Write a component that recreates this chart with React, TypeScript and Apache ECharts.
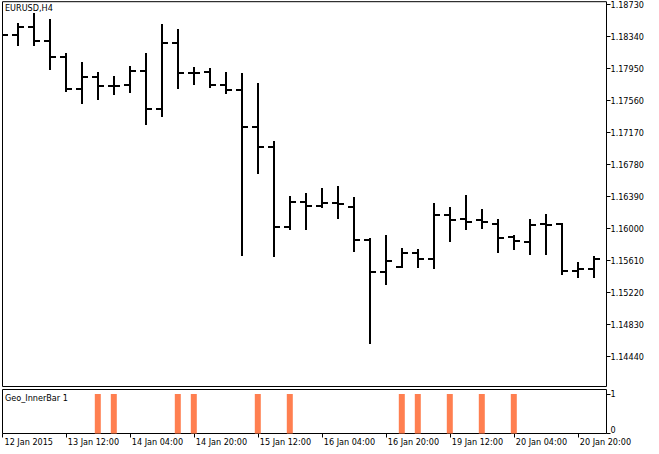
import React, { useEffect, useRef } from "react";
import * as echarts from "echarts";

// OHLC of EURUSD H4 bars, bar 0 = 12 Jan 2015 20:00 (mostly off the left edge)
const opens = [
  1.1835, 1.18356, 1.18457, 1.18287, 1.18092, 1.17699, 1.17849, 1.17736, 1.17748, 1.17922,
  1.17456, 1.18259, 1.17897, 1.1791, 1.17748, 1.17683, 1.1724, 1.16997, 1.16023, 1.1632,
  1.16275, 1.16308, 1.16266, 1.15861, 1.15475, 1.15536, 1.15706, 1.15633, 1.16165, 1.16113,
  1.16104, 1.16056, 1.15894, 1.1584, 1.16052, 1.16052, 1.15487, 1.15504,
];
const highs = [
  1.18365, 1.1849, 1.18612, 1.18539, 1.18125, 1.18019, 1.17897, 1.17849, 1.17963, 1.18125,
  1.18478, 1.18417, 1.17951, 1.17939, 1.1789, 1.17882, 1.1776, 1.1705, 1.16381, 1.16421,
  1.16478, 1.16502, 1.16368, 1.15869, 1.1591, 1.15757, 1.15745, 1.16299, 1.16247, 1.16396,
  1.16226, 1.16104, 1.1591, 1.16104, 1.16165, 1.16052, 1.15585, 1.15658,
];
const lows = [
  1.18345, 1.18235, 1.18235, 1.17939, 1.17675, 1.17525, 1.17581, 1.17638, 1.17666, 1.17269,
  1.17374, 1.17715, 1.17756, 1.1772, 1.17647, 1.15678, 1.16673, 1.15666, 1.15991, 1.15998,
  1.16266, 1.16125, 1.15731, 1.14603, 1.15322, 1.15529, 1.15532, 1.15516, 1.15852, 1.15998,
  1.16006, 1.15718, 1.15748, 1.15687, 1.15687, 1.15443, 1.15407, 1.15414,
];
const closes = [
  1.18356, 1.18457, 1.18287, 1.18092, 1.17699, 1.17849, 1.17736, 1.17736, 1.17922, 1.17456,
  1.18259, 1.17897, 1.17897, 1.17748, 1.17683, 1.1724, 1.16997, 1.16023, 1.1632, 1.16275,
  1.16308, 1.16299, 1.15861, 1.15475, 1.15609, 1.15706, 1.15626, 1.16165, 1.16104, 1.16084,
  1.16084, 1.15889, 1.15852, 1.16043, 1.16043, 1.15484, 1.15504, 1.15626,
];
// Geo_InnerBar indicator values per bar
const innerBar = [
  0, 0, 0, 0, 0, 0, 1, 1, 0, 0, 0, 1, 1, 0, 0, 0, 1, 0, 1, 0,
  0, 0, 0, 0, 0, 1, 1, 0, 1, 0, 1, 0, 1, 0, 0, 0, 0, 0,
];

const priceTicks = [
  1.1444, 1.1483, 1.1522, 1.1561, 1.16, 1.1639, 1.1678, 1.1717, 1.1756, 1.1795, 1.1834, 1.1873,
];
const timeTickBars = [4, 8, 12, 16, 20, 24, 28, 32, 36];
const timeTickLabels = [
  "13 Jan 12:00", "14 Jan 04:00", "14 Jan 20:00", "15 Jan 12:00", "16 Jan 04:00",
  "16 Jan 20:00", "19 Jan 12:00", "20 Jan 04:00", "20 Jan 20:00",
];
const firstLabel = "12 Jan 2015";
const symbolTitle = "EURUSD,H4";
const indicatorTitle = "Geo_InnerBar 1";

const X_MIN = 0.04375;
const X_MAX = 37.79375;
const Y_MIN = 1.140775;
const Y_MAX = 1.187641;

const FONT = '"DejaVu Sans Condensed", "Liberation Sans", sans-serif';

export default function App() {
  const ref = useRef<HTMLDivElement>(null);

  useEffect(() => {
    if (!ref.current) return;
    const chart = echarts.init(ref.current, undefined, { renderer: "svg" });

    const ohlc = opens.map((o, i) => [i, o, highs[i], lows[i], closes[i]]);
    const ind = innerBar.map((v, i) => [i, v]);

    const option: any = {
      animation: false,
      backgroundColor: "#ffffff",
      textStyle: { fontFamily: FONT, fontSize: 9, color: "#000" },
      title: [
        {
          text: symbolTitle,
          left: 5,
          top: 3,
          padding: 0,
          textStyle: { fontFamily: FONT, fontSize: 9, fontWeight: "normal", color: "#000" },
        },
        {
          text: indicatorTitle,
          left: 5,
          top: 393,
          padding: 0,
          textStyle: { fontFamily: FONT, fontSize: 9, fontWeight: "normal", color: "#000" },
        },
      ],
      grid: [
        {
          left: 2.5,
          top: 1.5,
          width: 604,
          height: 385,
          show: true,
          borderColor: "#000",
          borderWidth: 1,
          backgroundColor: "#fff",
        },
        {
          left: 2.5,
          top: 389.5,
          width: 604,
          height: 44,
          show: true,
          borderColor: "#000",
          borderWidth: 1,
          backgroundColor: "#fff",
        },
      ],
      xAxis: [
        { type: "value", gridIndex: 0, min: X_MIN, max: X_MAX, show: false },
        {
          type: "value",
          gridIndex: 1,
          min: X_MIN,
          max: X_MAX,
          axisLine: { show: false },
          splitLine: { show: false },
          axisTick: {
            show: true,
            length: 4,
            customValues: [X_MIN, ...timeTickBars],
            lineStyle: { color: "#000", width: 1 },
          },
          axisLabel: {
            customValues: [X_MIN, ...timeTickBars],
            align: "left",
            margin: 4,
            padding: [0, 0, 0, 2],
            color: "#000",
            fontFamily: FONT,
            fontSize: 9,
            formatter: (v: number) => {
              if (Math.abs(v - X_MIN) < 1e-6) return firstLabel;
              const i = timeTickBars.indexOf(Math.round(v));
              return i >= 0 ? timeTickLabels[i] : "";
            },
          },
        },
      ],
      yAxis: [
        {
          type: "value",
          gridIndex: 0,
          position: "right",
          min: Y_MIN,
          max: Y_MAX,
          axisLine: { show: false },
          splitLine: { show: false },
          axisTick: {
            show: true,
            length: 4,
            customValues: priceTicks,
            lineStyle: { color: "#000", width: 1 },
          },
          axisLabel: {
            customValues: priceTicks,
            margin: 4,
            color: "#000",
            fontFamily: FONT,
            fontSize: 9,
            formatter: (v: number) => v.toFixed(5),
          },
        },
        {
          type: "value",
          gridIndex: 1,
          position: "right",
          min: 0,
          max: 1.1139,
          axisLine: { show: false },
          splitLine: { show: false },
          axisTick: {
            show: true,
            length: 4,
            customValues: [0, 1],
            lineStyle: { color: "#000", width: 1 },
          },
          axisLabel: {
            customValues: [0, 1],
            margin: 4,
            color: "#000",
            fontFamily: FONT,
            fontSize: 9,
            formatter: (v: number) => (v < 0.5 ? "{z|0}" : "{o|1}"),
            rich: {
              z: { padding: [0, 0, 8, 0], fontFamily: FONT, fontSize: 9, color: "#000" },
              o: { fontFamily: FONT, fontSize: 9, color: "#000" },
            },
          },
        },
      ],
      series: [
        {
          type: "custom",
          xAxisIndex: 0,
          yAxisIndex: 0,
          clip: true,
          data: ohlc,
          encode: { x: 0, y: [1, 2, 3, 4] },
          renderItem: (params: any, api: any) => {
            const k = api.value(0);
            const o = api.coord([k, api.value(1)]);
            const h = api.coord([k, api.value(2)]);
            const l = api.coord([k, api.value(3)]);
            const c = api.coord([k, api.value(4)]);
            const x = Math.round(o[0]);
            const yo = Math.round(o[1]);
            const yc = Math.round(c[1]);
            const yh = Math.round(h[1]) - 1;
            const yl = Math.round(l[1]) + 1;
            const st = { stroke: "#000", lineWidth: 2 };
            return {
              type: "group",
              children: [
                { type: "line", shape: { x1: x, y1: yh, x2: x, y2: yl }, style: st },
                { type: "line", shape: { x1: x - 6, y1: yo, x2: x, y2: yo }, style: st },
                { type: "line", shape: { x1: x, y1: yc, x2: x + 6, y2: yc }, style: st },
              ],
            };
          },
        },
        {
          type: "bar",
          xAxisIndex: 1,
          yAxisIndex: 1,
          data: ind,
          barWidth: 6,
          itemStyle: { color: "#FF7F50" },
        },
      ],
    };

    chart.setOption(option);
    return () => chart.dispose();
  }, []);

  return (
    <div
      ref={ref}
      style={{ position: "fixed", left: 0, top: 0, width: 659, height: 454, background: "#fff" }}
    />
  );
}
